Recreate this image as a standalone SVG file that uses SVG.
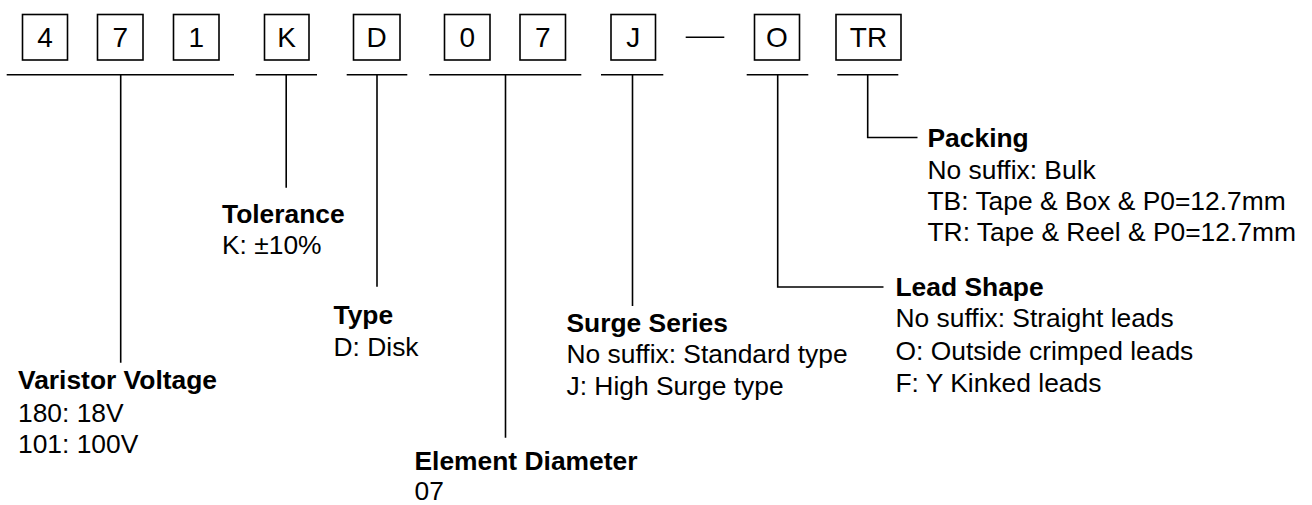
<svg xmlns="http://www.w3.org/2000/svg" width="1312" height="505" viewBox="0 0 1312 505">
<style>
.box{fill:#fff;stroke:#000;stroke-width:1.6}
.ch{font-family:"Liberation Sans",Arial,sans-serif;font-size:28px;fill:#000;text-anchor:middle}
.ln{fill:none;stroke:#000;stroke-width:1.6}
.h{font-family:"Liberation Sans",Arial,sans-serif;font-size:26.4px;font-weight:bold;fill:#000}
.t{font-family:"Liberation Sans",Arial,sans-serif;font-size:26.4px;fill:#000}
</style>
<rect width="1312" height="505" fill="#fff"/>
<g id="code">
<g id="c4"><rect class="box" x="22.5" y="14.5" width="45" height="45.5"/><text class="ch" x="45" y="47">4</text></g>
<g id="c7a"><rect class="box" x="97.5" y="14.5" width="45.5" height="45.5"/><text class="ch" x="120.3" y="47">7</text></g>
<g id="c1"><rect class="box" x="173.5" y="14.5" width="45.5" height="45.5"/><text class="ch" x="196.3" y="47">1</text></g>
<g id="cK"><rect class="box" x="264.5" y="14.5" width="44.5" height="45.5"/><text class="ch" x="286.7" y="47">K</text></g>
<g id="cD"><rect class="box" x="353.5" y="14.5" width="46.5" height="45.5"/><text class="ch" x="376.7" y="47">D</text></g>
<g id="c0"><rect class="box" x="444.5" y="14.5" width="45.5" height="45.5"/><text class="ch" x="467.2" y="47">0</text></g>
<g id="c7b"><rect class="box" x="520" y="14.5" width="45.5" height="45.5"/><text class="ch" x="542.8" y="47">7</text></g>
<g id="cJ"><rect class="box" x="611" y="14.5" width="44.5" height="45.5"/><text class="ch" x="633.3" y="47">J</text></g>
<g id="dash"><line class="ln" x1="685.7" y1="37.3" x2="724.3" y2="37.3"/></g>
<g id="cO"><rect class="box" x="754.5" y="14.5" width="45" height="45.5"/><text class="ch" x="777" y="47">O</text></g>
<g id="cTR"><rect class="box" x="836" y="14.5" width="65" height="45.5"/><text class="ch" x="868.5" y="47">TR</text></g>
</g>
<g id="connectors">
<line class="ln" x1="6.7" y1="74.7" x2="234" y2="74.7"/>
<line class="ln" x1="120.7" y1="74.7" x2="120.7" y2="362.7"/>
<line class="ln" x1="255.7" y1="74.7" x2="317" y2="74.7"/>
<line class="ln" x1="286.2" y1="74.7" x2="286.2" y2="187.7"/>
<line class="ln" x1="346.7" y1="74.7" x2="407.3" y2="74.7"/>
<line class="ln" x1="377" y1="74.7" x2="377" y2="286.7"/>
<line class="ln" x1="429.3" y1="74.7" x2="581.3" y2="74.7"/>
<line class="ln" x1="505.5" y1="74.7" x2="505.5" y2="437.7"/>
<line class="ln" x1="601" y1="74.7" x2="663.3" y2="74.7"/>
<line class="ln" x1="632.5" y1="74.7" x2="632.5" y2="306"/>
<line class="ln" x1="746.7" y1="74.7" x2="808.3" y2="74.7"/>
<polyline class="ln" points="777.7,74.7 777.7,287 883.5,287"/>
<line class="ln" x1="837.3" y1="74.7" x2="898.3" y2="74.7"/>
<polyline class="ln" points="867.7,74.7 867.7,137.5 917.5,137.5"/>
</g>
<g id="varistor-voltage">
<text class="h" x="18" y="389">Varistor Voltage</text>
<text class="t" x="18" y="421.5">180: 18V</text>
<text class="t" x="18" y="453">101: 100V</text>
</g>
<g id="tolerance">
<text class="h" x="222" y="222.7">Tolerance</text>
<text class="t" x="222" y="254.3">K: ±10%</text>
</g>
<g id="type">
<text class="h" x="333.5" y="324">Type</text>
<text class="t" x="333.5" y="356">D: Disk</text>
</g>
<g id="element-diameter">
<text class="h" x="414.5" y="470">Element Diameter</text>
<text class="t" x="414.5" y="500">07</text>
</g>
<g id="surge-series">
<text class="h" x="566.5" y="331.5">Surge Series</text>
<text class="t" x="566.5" y="363">No suffix: Standard type</text>
<text class="t" x="566.5" y="395">J: High Surge type</text>
</g>
<g id="lead-shape">
<text class="h" x="895.5" y="296">Lead Shape</text>
<text class="t" x="895.5" y="327">No suffix: Straight leads</text>
<text class="t" x="895.5" y="359.5">O: Outside crimped leads</text>
<text class="t" x="895.5" y="391.5">F: Y Kinked leads</text>
</g>
<g id="packing">
<text class="h" x="927.5" y="147">Packing</text>
<text class="t" x="927.5" y="178.5">No suffix: Bulk</text>
<text class="t" x="927.5" y="209.5">TB: Tape &amp; Box &amp; P0=12.7mm</text>
<text class="t" x="927.5" y="241">TR: Tape &amp; Reel &amp; P0=12.7mm</text>
</g>
</svg>
